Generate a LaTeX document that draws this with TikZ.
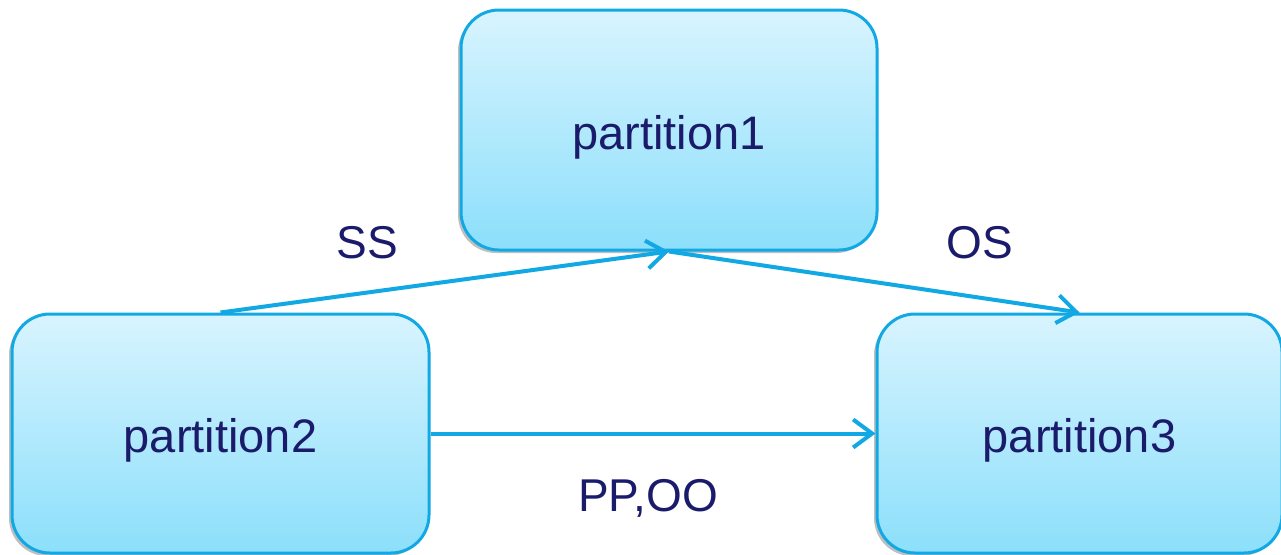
\documentclass[tikz,border=0pt]{standalone}
\usepackage{fontspec}
\setmainfont{Liberation Sans}
\usetikzlibrary{arrows.meta,shadows}
\definecolor{edgeblue}{HTML}{12A8E4}
\definecolor{boxtop}{HTML}{D8F4FE}
\definecolor{boxbottom}{HTML}{8CDFFB}
\definecolor{labelnavy}{HTML}{1B1B6B}
% lower the box captions a little, keeping their nominal size
\newcommand{\boxtext}[1]{\raisebox{-7pt}[\height][\depth]{#1}}
\begin{document}
\begin{tikzpicture}[x=1pt,y=-1pt,
  partbox/.style={draw=edgeblue, line width=3pt, rounded corners=38pt,
    top color=boxtop, bottom color=boxbottom, inner sep=0pt,
    text=labelnavy, font=\fontsize{47}{52}\selectfont,
    drop shadow={shadow xshift=-3pt, shadow yshift=-3pt, opacity=0.25, fill=black}},
  link/.style={edgeblue, line width=4pt,
    -{Straight Barb[length=19pt,width=28pt,line width=4pt]}},
  linklabel/.style={text=labelnavy, font=\fontsize{46}{52}\selectfont, inner sep=0pt}]
  \useasboundingbox (0,0) rectangle (1281,554);
  \node[partbox, minimum width=416pt, minimum height=240pt] (p1) at (669,130) {\boxtext{partition1}};
  \node[partbox, minimum width=417pt, minimum height=239pt] (p2) at (220.5,433.5) {\boxtext{partition2}};
  \node[partbox, minimum width=405pt, minimum height=239pt] (p3) at (1079.5,433.5) {\boxtext{partition3}};
  \draw[link] (p2.north) -- (p1.south);
  \draw[link] (p1.south) -- (p3.north);
  \draw[link] (p2.east) -- (p3.west);
  \node[linklabel] (ss) at (367,243) {SS};
  \node[linklabel] (os) at (980,243) {OS};
  \node[linklabel] (ppoo) at (648,498) {PP,OO};
\end{tikzpicture}
\end{document}
